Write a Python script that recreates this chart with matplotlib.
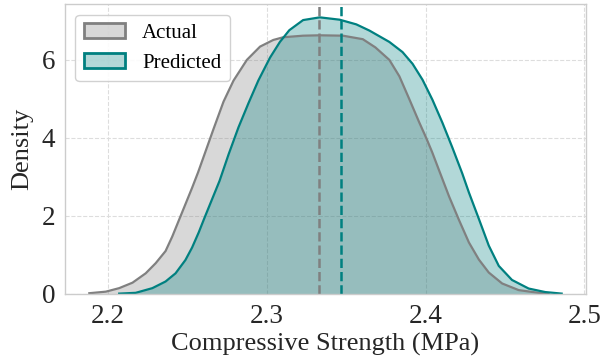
import numpy as np
import matplotlib
matplotlib.use('Agg')
import matplotlib.pyplot as plt
from matplotlib.patches import Patch

plt.rcParams['font.family'] = ['Liberation Serif', 'DejaVu Serif']

# 实际值 KDE 曲线
actual_x = [2.1883, 2.1987, 2.2071, 2.2155, 2.2238, 2.2301, 2.2363, 2.2405, 2.2446, 2.2488,
            2.2530, 2.2568, 2.2603, 2.2666, 2.2728, 2.2791, 2.2875, 2.2958, 2.3041, 2.3104,
            2.3229, 2.3334, 2.3480, 2.3605, 2.3684, 2.3772, 2.3835, 2.3897, 2.3960, 2.4004,
            2.4041, 2.4085, 2.4148, 2.4210, 2.4273, 2.4336, 2.4398, 2.4482, 2.4586, 2.4711,
            2.4774]
actual_y = [0.02, 0.06, 0.15, 0.29, 0.53, 0.79, 1.10, 1.47, 1.88, 2.30,
            2.72, 3.12, 3.52, 4.24, 4.93, 5.47, 6.00, 6.34, 6.51, 6.58,
            6.62, 6.63, 6.62, 6.53, 6.32, 6.00, 5.58, 5.00, 4.40, 4.00,
            3.64, 3.17, 2.50, 1.90, 1.32, 0.88, 0.55, 0.27, 0.10, 0.03,
            0.01]

# 预测值 KDE 曲线
pred_x = [2.2071, 2.2175, 2.2280, 2.2363, 2.2426, 2.2488, 2.2530, 2.2572, 2.2609, 2.2703,
          2.2760, 2.2822, 2.2885, 2.2947, 2.3021, 2.3083, 2.3142, 2.3229, 2.3334, 2.3459,
          2.3564, 2.3647, 2.3772, 2.3855, 2.3918, 2.3981, 2.4043, 2.4106, 2.4168, 2.4231,
          2.4273, 2.4336, 2.4398, 2.4461, 2.4544, 2.4649, 2.4753, 2.4857]
pred_y = [0.01, 0.03, 0.15, 0.32, 0.53, 0.87, 1.19, 1.58, 1.96, 2.90,
          3.58, 4.27, 4.89, 5.47, 6.06, 6.46, 6.76, 7.02, 7.09, 7.03,
          6.91, 6.75, 6.46, 6.20, 5.90, 5.49, 4.98, 4.39, 3.76, 3.09,
          2.60, 1.92, 1.24, 0.72, 0.36, 0.14, 0.05, 0.01]

actual_mean = 2.3327
pred_mean = 2.3469

fig = plt.figure(figsize=(6.02, 3.61), dpi=100)
ax = fig.add_axes([0.108, 0.1856, 0.8654, 0.802])

ax.grid(True, linestyle='--', color='#dddddd', linewidth=0.8)
ax.set_axisbelow(True)

ax.fill_between(actual_x, actual_y, color='gray', alpha=0.3, linewidth=0)
ax.plot(actual_x, actual_y, color='gray', linewidth=1.6, solid_joinstyle='round')
ax.fill_between(pred_x, pred_y, color='teal', alpha=0.3, linewidth=0)
ax.plot(pred_x, pred_y, color='teal', linewidth=1.6, solid_joinstyle='round')

ax.axvline(actual_mean, color='gray', linestyle='--', linewidth=1.8)
ax.axvline(pred_mean, color='teal', linestyle='--', linewidth=1.8)

ax.set_xlim(2.173, 2.501)
ax.set_ylim(0, 7.42)
ax.set_xticks([2.2, 2.3, 2.4, 2.5])
ax.set_yticks([0, 2, 4, 6])
ax.tick_params(length=0, pad=7, labelsize=19.5, colors='#262626')
for s in ax.spines.values():
    s.set_color('#cccccc')
    s.set_linewidth(1.0)

ax.set_xlabel('Compressive Strength (MPa)', fontsize=19, color='#262626', labelpad=3)
ax.set_ylabel('Density', fontsize=19, color='#262626', labelpad=6)

handles = [Patch(facecolor=(0.5, 0.5, 0.5, 0.3), edgecolor='gray', linewidth=2, label='Actual'),
           Patch(facecolor=(0, 0.5, 0.5, 0.3), edgecolor='teal', linewidth=2, label='Predicted')]
ax.legend(handles=handles, loc='upper left', fontsize=15, framealpha=0.9, edgecolor='#cccccc')

plt.savefig('out.png', dpi=100)
